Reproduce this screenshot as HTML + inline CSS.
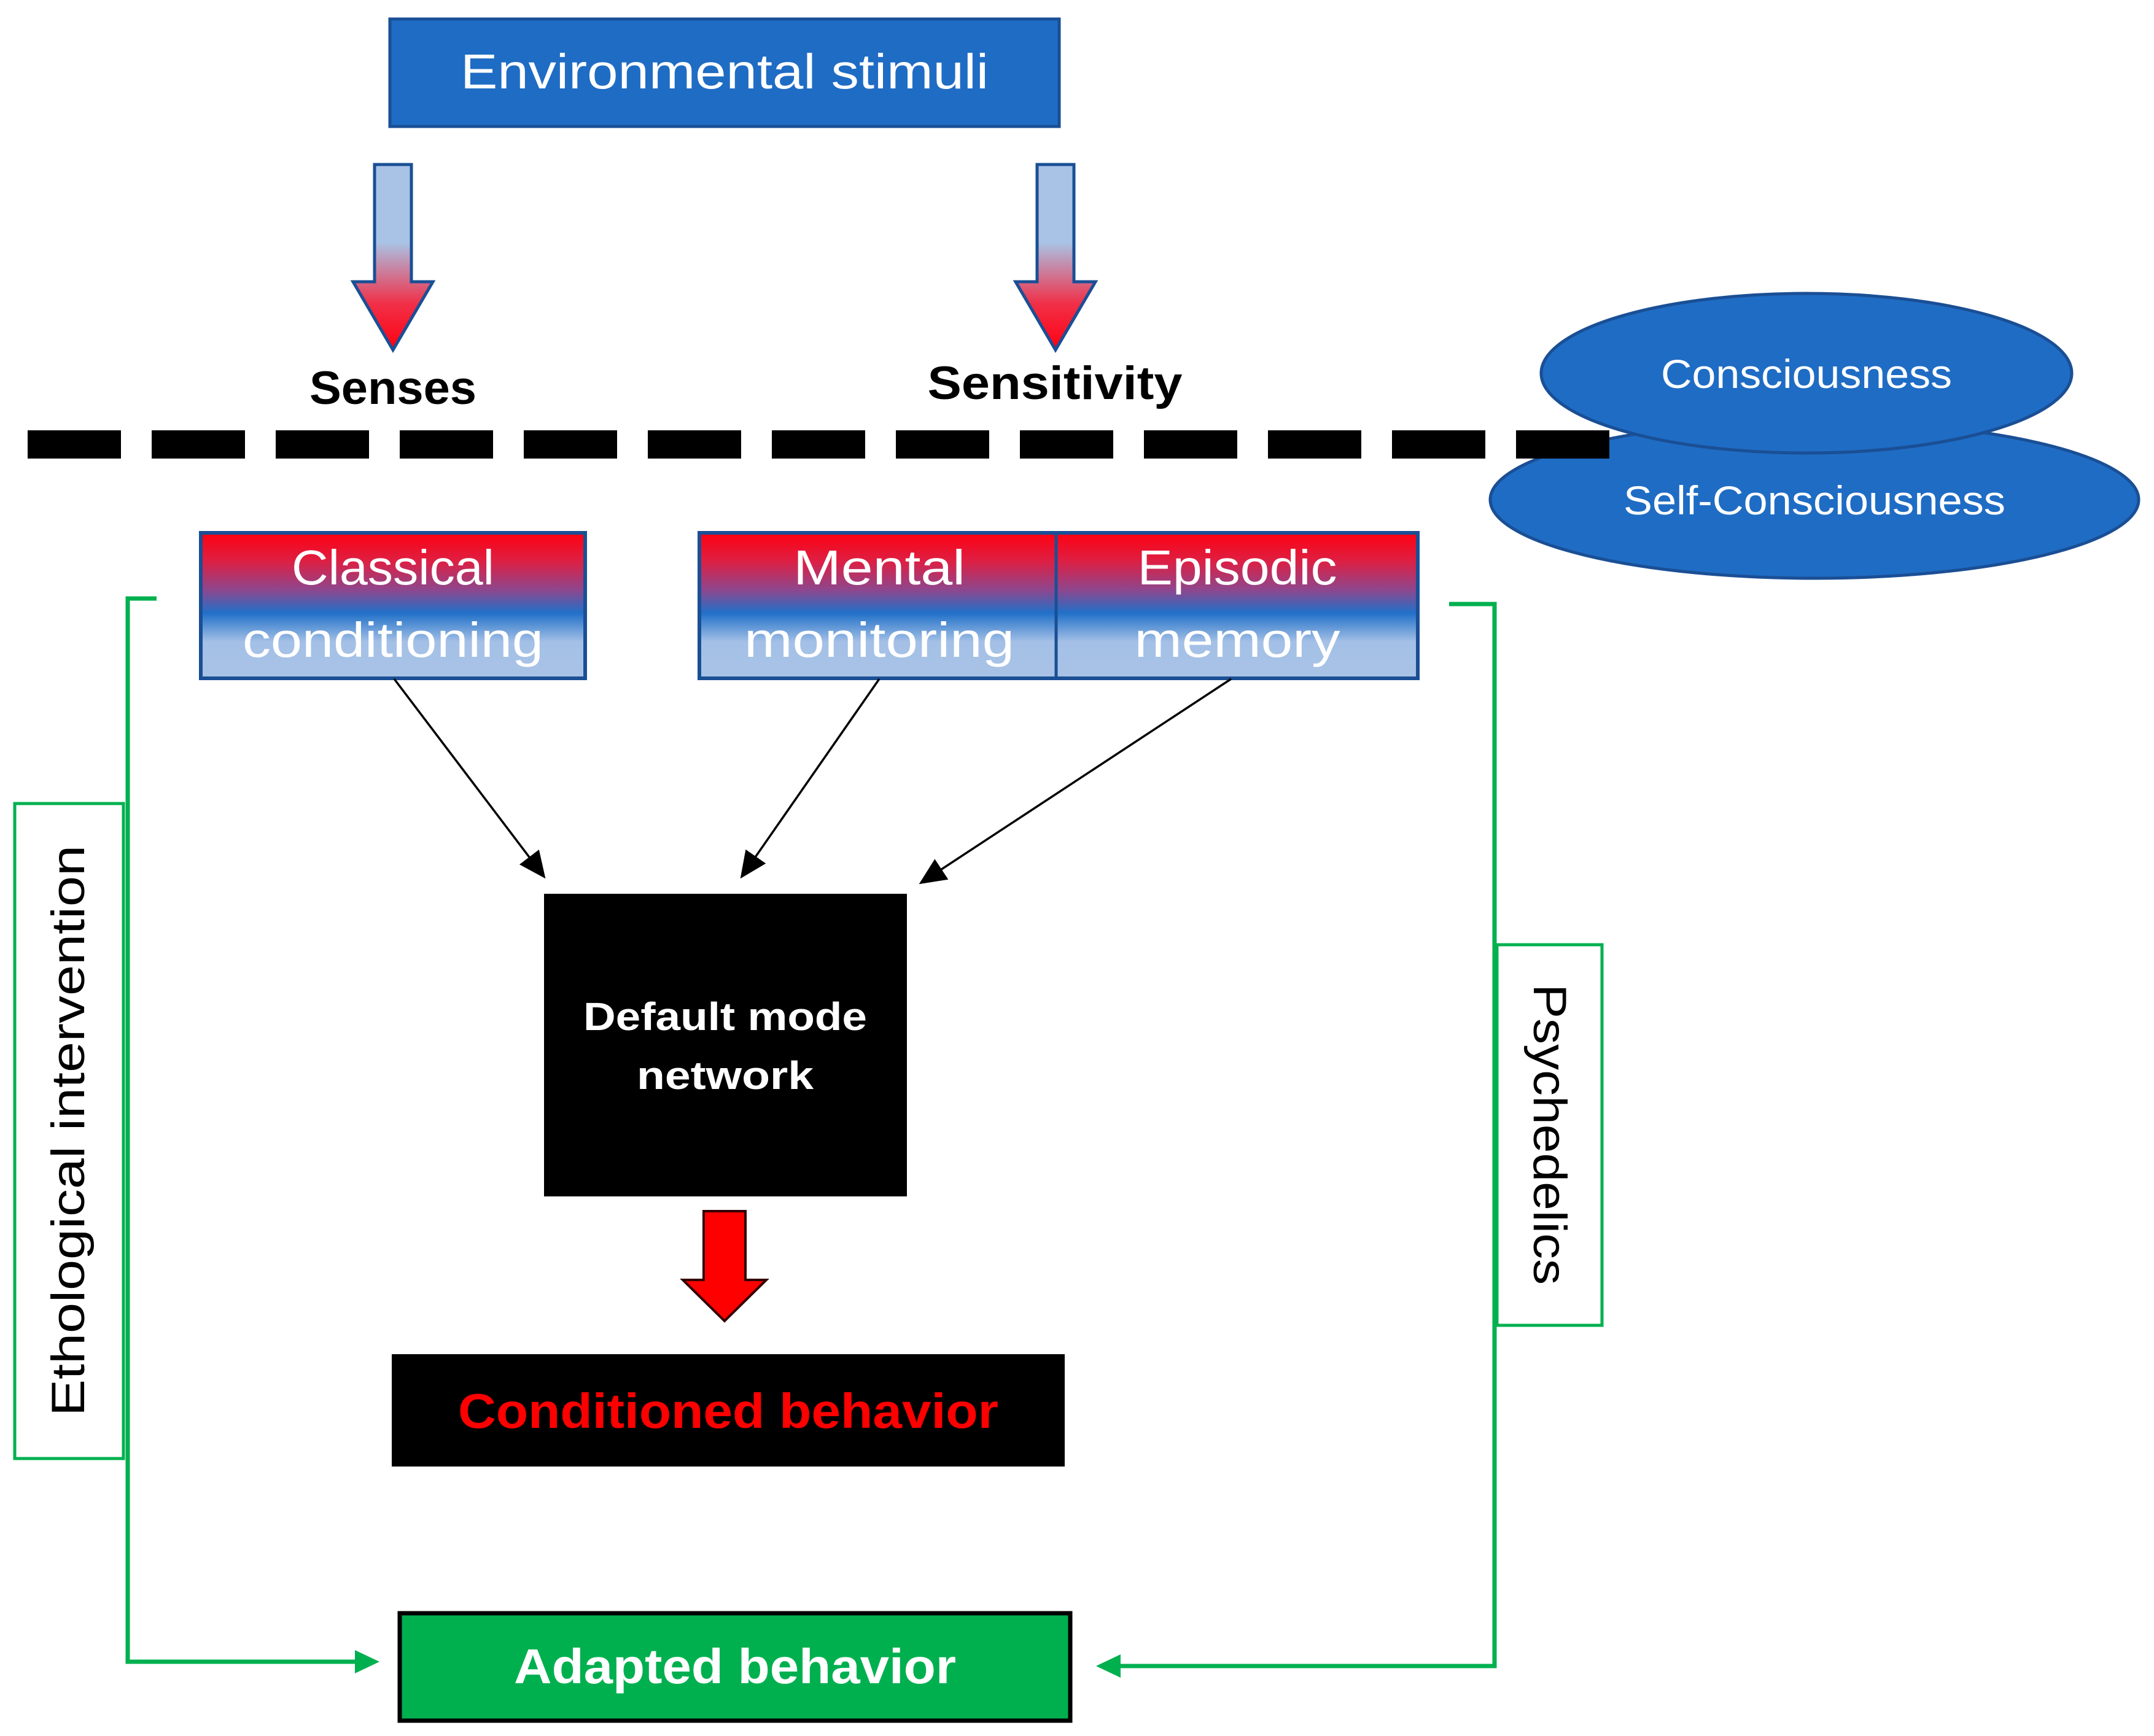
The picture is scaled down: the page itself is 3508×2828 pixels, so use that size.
<!DOCTYPE html>
<html><head><meta charset="utf-8"><style>html,body{margin:0;padding:0;background:#fff}svg{display:block}</style></head>
<body>
<svg width="3508" height="2828" viewBox="0 0 3508 2828" xmlns="http://www.w3.org/2000/svg" font-family="Liberation Sans, sans-serif">
<defs>
<linearGradient id="ar" x1="0" y1="0" x2="0" y2="1">
<stop offset="0" stop-color="#a9c3e6"/><stop offset="0.42" stop-color="#a9c3e6"/><stop offset="0.75" stop-color="#f03048"/><stop offset="1" stop-color="#ff0010"/></linearGradient>
<linearGradient id="bx" x1="0" y1="0" x2="0" y2="1">
<stop offset="0" stop-color="#ff0010"/><stop offset="0.2" stop-color="#dc2045"/><stop offset="0.4" stop-color="#8a4890"/><stop offset="0.55" stop-color="#2070c8"/><stop offset="0.75" stop-color="#a4c0e6"/><stop offset="1" stop-color="#a9c3e6"/></linearGradient>
<marker id="mb" markerWidth="44" markerHeight="40" refX="40" refY="20" orient="auto" markerUnits="userSpaceOnUse" viewBox="0 0 44 40"><path d="M0,0 L44,20 L0,40 z" fill="#000"/></marker>
</defs>

<rect x="635" y="31" width="1090" height="175" fill="#1f6cc4" stroke="#1a4f95" stroke-width="5"/>
<text x="1180" y="144" font-size="80" fill="#fff" text-anchor="middle" textLength="860" lengthAdjust="spacingAndGlyphs">Environmental stimuli</text>

<path d="M610,268 H670 V459 H705 L640,570 L575,459 H610 Z" fill="url(#ar)" stroke="#1a4f95" stroke-width="5"/>
<path d="M1689,268 H1749 V459 H1784 L1719,570 L1654,459 H1689 Z" fill="url(#ar)" stroke="#1a4f95" stroke-width="5"/>

<text x="640" y="658" font-size="76" font-weight="bold" text-anchor="middle" textLength="272" lengthAdjust="spacingAndGlyphs">Senses</text>
<text x="1718" y="650" font-size="76" font-weight="bold" text-anchor="middle" textLength="415" lengthAdjust="spacingAndGlyphs">Sensitivity</text>

<ellipse cx="2955" cy="814" rx="528" ry="128" fill="#1f6cc4" stroke="#1a4f95" stroke-width="5"/>
<text x="2955" y="838" font-size="66" fill="#fff" text-anchor="middle" textLength="622" lengthAdjust="spacingAndGlyphs">Self-Consciousness</text>
<ellipse cx="2942" cy="608" rx="432" ry="130" fill="#1f6cc4" stroke="#1a4f95" stroke-width="5"/>
<text x="2942" y="632" font-size="66" fill="#fff" text-anchor="middle" textLength="474" lengthAdjust="spacingAndGlyphs">Consciousness</text>

<line x1="45" y1="724" x2="2632" y2="724" stroke="#000" stroke-width="46" stroke-dasharray="152,50"/>

<rect x="327" y="868" width="626" height="237" fill="url(#bx)" stroke="#1a4f95" stroke-width="6"/>
<text x="640" y="952" font-size="80" fill="#fff" text-anchor="middle" textLength="330" lengthAdjust="spacingAndGlyphs">Classical</text>
<text x="640" y="1070" font-size="80" fill="#fff" text-anchor="middle" textLength="490" lengthAdjust="spacingAndGlyphs">conditioning</text>
<rect x="1139" y="868" width="1170" height="237" fill="url(#bx)" stroke="#1a4f95" stroke-width="6"/>
<line x1="1720" y1="868" x2="1720" y2="1105" stroke="#1a4f95" stroke-width="5"/>
<text x="1432" y="952" font-size="80" fill="#fff" text-anchor="middle" textLength="280" lengthAdjust="spacingAndGlyphs">Mental</text>
<text x="1432" y="1070" font-size="80" fill="#fff" text-anchor="middle" textLength="440" lengthAdjust="spacingAndGlyphs">monitoring</text>
<text x="2015" y="952" font-size="80" fill="#fff" text-anchor="middle" textLength="325" lengthAdjust="spacingAndGlyphs">Episodic</text>
<text x="2015" y="1070" font-size="80" fill="#fff" text-anchor="middle" textLength="335" lengthAdjust="spacingAndGlyphs">memory</text>

<g stroke="#000" stroke-width="3.5" marker-end="url(#mb)">
<line x1="642" y1="1106" x2="886" y2="1428"/>
<line x1="1432" y1="1106" x2="1208" y2="1428"/>
<line x1="2005" y1="1106" x2="1500" y2="1438"/>
</g>

<rect x="886" y="1456" width="591" height="493" fill="#000"/>
<text x="1181" y="1678" font-size="64" font-weight="bold" fill="#fff" text-anchor="middle" textLength="462" lengthAdjust="spacingAndGlyphs">Default mode</text>
<text x="1181" y="1774" font-size="64" font-weight="bold" fill="#fff" text-anchor="middle" textLength="288" lengthAdjust="spacingAndGlyphs">network</text>

<path d="M1146,1973 H1214 V2085 H1248 L1180,2152 L1112,2085 H1146 Z" fill="#ff0000" stroke="#300" stroke-width="4"/>

<rect x="638" y="2206" width="1096" height="183" fill="#000"/>
<text x="1186" y="2326" font-size="80" font-weight="bold" fill="#ff0000" text-anchor="middle" textLength="880" lengthAdjust="spacingAndGlyphs">Conditioned behavior</text>

<rect x="651" y="2628" width="1092" height="175" fill="#00b04f" stroke="#000" stroke-width="7"/>
<text x="1197" y="2742" font-size="80" font-weight="bold" fill="#fff" text-anchor="middle" textLength="720" lengthAdjust="spacingAndGlyphs">Adapted behavior</text>

<polyline points="255,975 208,975 208,2707 590,2707" fill="none" stroke="#00b04f" stroke-width="7"/>
<path d="M618,2707 L578,2688 L578,2726 Z" fill="#00b04f"/>
<polyline points="2360,984 2434,984 2434,2714 1815,2714" fill="none" stroke="#00b04f" stroke-width="7"/>
<path d="M1785,2714 L1825,2695 L1825,2733 Z" fill="#00b04f"/>

<rect x="24" y="1309" width="177" height="1067" fill="#fff" stroke="#00b04f" stroke-width="5"/>
<text transform="translate(137,1842) rotate(-90)" font-size="76" text-anchor="middle" textLength="930" lengthAdjust="spacingAndGlyphs">Ethological intervention</text>
<rect x="2438" y="1539" width="171" height="620" fill="#fff" stroke="#00b04f" stroke-width="5"/>
<text transform="translate(2498,1848) rotate(90)" font-size="76" text-anchor="middle" textLength="490" lengthAdjust="spacingAndGlyphs">Psychedelics</text>
</svg>
</body></html>
